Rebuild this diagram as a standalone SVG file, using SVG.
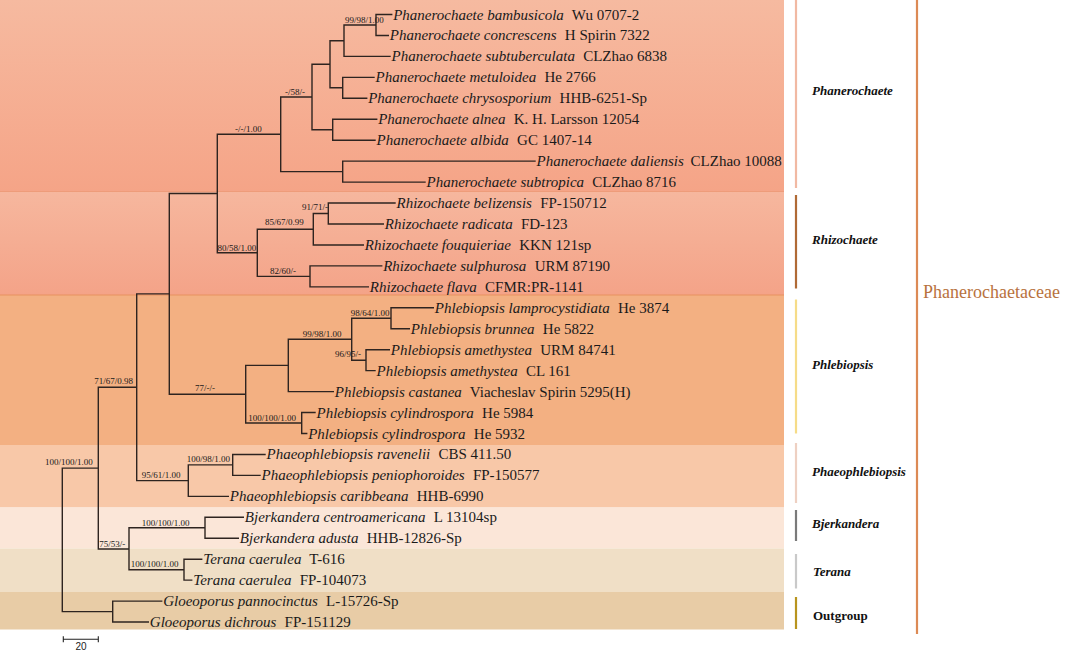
<svg xmlns="http://www.w3.org/2000/svg" width="1074" height="655" viewBox="0 0 1074 655">
<style>
.tip text{font-family:"Liberation Serif","Times New Roman",serif;font-size:15px;fill:#1a1a1a}
.sp{font-style:italic}
.sup{font-family:"Liberation Serif","Times New Roman",serif;font-size:9px;fill:#1a1a1a}
.br{fill:none;stroke:#2e2420;stroke-width:1.4;stroke-linecap:square}
.clab{font-family:"Liberation Serif","Times New Roman",serif;font-size:13px;font-weight:bold;font-style:italic;fill:#111}
.bar{stroke-width:2.2;fill:none}
</style>
<defs>
<linearGradient id="gPh" x1="0" y1="0" x2="0" y2="1">
<stop offset="0" stop-color="#f6baa0"/>
<stop offset="1" stop-color="#f5a487"/>
</linearGradient>
<linearGradient id="gRh" x1="0" y1="0" x2="0" y2="1">
<stop offset="0" stop-color="#f6b79e"/>
<stop offset="1" stop-color="#f4a388"/>
</linearGradient>
</defs>
<rect width="1074" height="655" fill="#ffffff"/>
<g id="bands">
<rect x="0" y="0" width="784" height="191.5" fill="url(#gPh)"/>
<rect x="0" y="191.5" width="784" height="103.5" fill="url(#gRh)"/>
<rect x="0" y="295" width="784" height="150" fill="#f3b082"/>
<rect x="0" y="445" width="784" height="62.5" fill="#f8c8a8"/>
<rect x="0" y="507.5" width="784" height="41" fill="#fbe6d8"/>
<rect x="0" y="548.5" width="784" height="43.5" fill="#f0dfc6"/>
<rect x="0" y="592" width="784" height="37.5" fill="#e8cca6"/>
<line x1="0" y1="191.5" x2="784" y2="191.5" stroke="#ee9c7a" stroke-width="1"/>
<line x1="0" y1="295" x2="784" y2="295" stroke="#e8915e" stroke-width="1"/>
</g>
<g id="connectors">
<path class="br" d="M376 14.5V35.45M376 14.5H391.7M376 35.45H388.3
M344 25V56.4M344 25H376M344 56.4H390
M342.7 77.35V98.3M342.7 77.35H374M342.7 98.3H366.7
M330 40.7V87.8M330 40.7H344M330 87.8H342.7
M332.7 119.25V140.2M332.7 119.25H376.7M332.7 140.2H375
M312 64.25V129.7M312 64.25H330M312 129.7H332.7
M342.7 161.15V182.1M342.7 161.15H535M342.7 182.1H425
M280.7 97V171.6M280.7 97H312M280.7 171.6H342.7
M328.3 203.05V224M328.3 203.05H395M328.3 224H383.3
M313.3 213.5V244.95M313.3 213.5H328.3M313.3 244.95H363.3
M310 265.9V286.85M310 265.9H381.7M310 286.85H368.3
M257.3 229.2V276.4M257.3 229.2H313.3M257.3 276.4H310
M217.3 134.3V252.8M217.3 134.3H280.7M217.3 252.8H257.3
M391 307.8V328.75M391 307.8H433.3M391 328.75H409.3
M366 349.7V370.65M366 349.7H389.3M366 370.65H375
M351.7 318.3V360.2M351.7 318.3H391M351.7 360.2H366
M288.3 339.2V391.6M288.3 339.2H351.7M288.3 391.6H333.3
M301.7 412.55V433.5M301.7 412.55H315M301.7 433.5H306.7
M245.7 365.4V423M245.7 365.4H288.3M245.7 423H301.7
M169.3 193.55V394.2M169.3 193.55H217.3M169.3 394.2H245.7
M232.7 454.45V475.4M232.7 454.45H265M232.7 475.4H260
M188.3 464.9V496.35M188.3 464.9H232.7M188.3 496.35H228.3
M136.7 293.9V480.6M136.7 293.9H169.3M136.7 480.6H188.3
M205 517.3V538.25M205 517.3H243.3M205 538.25H238.3
M184 559.2V580.15M184 559.2H201.7M184 580.15H191.7
M129 527.8V569.7M129 527.8H205M129 569.7H184
M98.3 387.3V549M98.3 387.3H136.7M98.3 549H129
M112.7 601.1V622.05M112.7 601.1H161.7M112.7 622.05H148.3
M62.3 468.15V611.6M62.3 468.15H98.3M62.3 611.6H112.7"/>
</g>
<g id="supports" class="sup">
<text x="345" y="22.5">99/98/1.00</text>
<text x="285" y="94.5">-/58/-</text>
<text x="235" y="131.5">-/-/1.00</text>
<text x="217.5" y="251">80/58/1.00</text>
<text x="302" y="210">91/71/-</text>
<text x="265" y="224.5">85/67/0.99</text>
<text x="270" y="273.5">82/60/-</text>
<text x="350.7" y="316">98/64/1.00</text>
<text x="335" y="357">96/95/-</text>
<text x="302.7" y="336.7">99/98/1.00</text>
<text x="195" y="391">77/-/-</text>
<text x="248.3" y="420.7">100/100/1.00</text>
<text x="186.7" y="461.7">100/98/1.00</text>
<text x="141.7" y="478.3">95/61/1.00</text>
<text x="94.3" y="384">71/67/0.98</text>
<text x="99.3" y="546.7">75/53/-</text>
<text x="141.7" y="526">100/100/1.00</text>
<text x="130.7" y="566.7">100/100/1.00</text>
<text x="45" y="465">100/100/1.00</text>
</g>
<g id="t1" class="tip"><text x="393.2" y="19.5"><tspan class="sp">Phanerochaete bambusicola</tspan><tspan dx="4.5"> Wu 0707-2</tspan></text></g>
<g id="t2" class="tip"><text x="389.8" y="40.45"><tspan class="sp">Phanerochaete concrescens</tspan><tspan dx="4.5"> H Spirin 7322</tspan></text></g>
<g id="t3" class="tip"><text x="391.5" y="61.4"><tspan class="sp">Phanerochaete subtuberculata</tspan><tspan dx="4.5"> CLZhao 6838</tspan></text></g>
<g id="t4" class="tip"><text x="375.5" y="82.35"><tspan class="sp">Phanerochaete metuloidea</tspan><tspan dx="4.5"> He 2766</tspan></text></g>
<g id="t5" class="tip"><text x="368.2" y="103.3"><tspan class="sp">Phanerochaete chrysosporium</tspan><tspan dx="4.5"> HHB-6251-Sp</tspan></text></g>
<g id="t6" class="tip"><text x="378.2" y="124.25"><tspan class="sp">Phanerochaete alnea</tspan><tspan dx="4.5"> K. H. Larsson 12054</tspan></text></g>
<g id="t7" class="tip"><text x="376.5" y="145.2"><tspan class="sp">Phanerochaete albida</tspan><tspan dx="4.5"> GC 1407-14</tspan></text></g>
<g id="t8" class="tip"><text x="536.5" y="166.15"><tspan class="sp">Phanerochaete daliensis</tspan><tspan dx="3"> CLZhao 10088</tspan></text></g>
<g id="t9" class="tip"><text x="426.5" y="187.1"><tspan class="sp">Phanerochaete subtropica</tspan><tspan dx="4.5"> CLZhao 8716</tspan></text></g>
<g id="t10" class="tip"><text x="396.5" y="208.05"><tspan class="sp">Rhizochaete belizensis</tspan><tspan dx="4.5"> FP-150712</tspan></text></g>
<g id="t11" class="tip"><text x="384.8" y="229"><tspan class="sp">Rhizochaete radicata</tspan><tspan dx="4.5"> FD-123</tspan></text></g>
<g id="t12" class="tip"><text x="364.8" y="249.95"><tspan class="sp">Rhizochaete fouquieriae</tspan><tspan dx="4.5"> KKN 121sp</tspan></text></g>
<g id="t13" class="tip"><text x="383.2" y="270.9"><tspan class="sp">Rhizochaete sulphurosa</tspan><tspan dx="4.5"> URM 87190</tspan></text></g>
<g id="t14" class="tip"><text x="369.8" y="291.85"><tspan class="sp">Rhizochaete flava</tspan><tspan dx="4.5"> CFMR:PR-1141</tspan></text></g>
<g id="t15" class="tip"><text x="434.8" y="312.8"><tspan class="sp">Phlebiopsis lamprocystidiata</tspan><tspan dx="4.5"> He 3874</tspan></text></g>
<g id="t16" class="tip"><text x="410.8" y="333.75"><tspan class="sp">Phlebiopsis brunnea</tspan><tspan dx="4.5"> He 5822</tspan></text></g>
<g id="t17" class="tip"><text x="390.8" y="354.7"><tspan class="sp">Phlebiopsis amethystea</tspan><tspan dx="4.5"> URM 84741</tspan></text></g>
<g id="t18" class="tip"><text x="376.5" y="375.65"><tspan class="sp">Phlebiopsis amethystea</tspan><tspan dx="4.5"> CL 161</tspan></text></g>
<g id="t19" class="tip"><text x="334.8" y="396.6"><tspan class="sp">Phlebiopsis castanea</tspan><tspan dx="4.5"> Viacheslav Spirin 5295(H)</tspan></text></g>
<g id="t20" class="tip"><text x="316.5" y="417.55"><tspan class="sp">Phlebiopsis cylindrospora</tspan><tspan dx="4.5"> He 5984</tspan></text></g>
<g id="t21" class="tip"><text x="308.2" y="438.5"><tspan class="sp">Phlebiopsis cylindrospora</tspan><tspan dx="4.5"> He 5932</tspan></text></g>
<g id="t22" class="tip"><text x="266.5" y="459.45"><tspan class="sp">Phaeophlebiopsis ravenelii</tspan><tspan dx="4.5"> CBS 411.50</tspan></text></g>
<g id="t23" class="tip"><text x="261.5" y="480.4"><tspan class="sp">Phaeophlebiopsis peniophoroides</tspan><tspan dx="4.5"> FP-150577</tspan></text></g>
<g id="t24" class="tip"><text x="229.8" y="501.35"><tspan class="sp">Phaeophlebiopsis caribbeana</tspan><tspan dx="4.5"> HHB-6990</tspan></text></g>
<g id="t25" class="tip"><text x="244.8" y="522.3"><tspan class="sp">Bjerkandera centroamericana</tspan><tspan dx="4.5"> L 13104sp</tspan></text></g>
<g id="t26" class="tip"><text x="239.8" y="543.25"><tspan class="sp">Bjerkandera adusta</tspan><tspan dx="4.5"> HHB-12826-Sp</tspan></text></g>
<g id="t27" class="tip"><text x="203.2" y="564.2"><tspan class="sp">Terana caerulea</tspan><tspan dx="4.5"> T-616</tspan></text></g>
<g id="t28" class="tip"><text x="193.2" y="585.15"><tspan class="sp">Terana caerulea</tspan><tspan dx="4.5"> FP-104073</tspan></text></g>
<g id="t29" class="tip"><text x="163.2" y="606.1"><tspan class="sp">Gloeoporus pannocinctus</tspan><tspan dx="4.5"> L-15726-Sp</tspan></text></g>
<g id="t30" class="tip"><text x="149.8" y="627.05"><tspan class="sp">Gloeoporus dichrous</tspan><tspan dx="4.5"> FP-151129</tspan></text></g>
<g id="clade-phanerochaete"><line class="bar" x1="796" y1="0" x2="796" y2="188" stroke="#f1b9a3"/><text class="clab" x="812" y="95">Phanerochaete</text></g>
<g id="clade-rhizochaete"><line class="bar" x1="796" y1="195" x2="796" y2="288.5" stroke="#b06a35"/><text class="clab" x="812" y="244">Rhizochaete</text></g>
<g id="clade-phlebiopsis"><line class="bar" x1="796" y1="299.5" x2="796" y2="433.5" stroke="#f6dc88"/><text class="clab" x="812" y="369">Phlebiopsis</text></g>
<g id="clade-phaeophlebiopsis"><line class="bar" x1="796" y1="443" x2="796" y2="503" stroke="#eed0c2"/><text class="clab" x="812" y="476">Phaeophlebiopsis</text></g>
<g id="clade-bjerkandera"><line class="bar" x1="796" y1="510" x2="796" y2="541" stroke="#7a7a7a"/><text class="clab" x="812" y="528">Bjerkandera</text></g>
<g id="clade-terana"><line class="bar" x1="796" y1="554" x2="796" y2="588.5" stroke="#c9c9c9"/><text class="clab" x="813" y="576">Terana</text></g>
<g id="clade-outgroup"><line class="bar" x1="796" y1="597" x2="796" y2="629" stroke="#b8941e"/><text class="clab" x="813" y="620" style="font-style:normal">Outgroup</text></g>
<g id="family"><line x1="917" y1="0" x2="917" y2="634" stroke="#dc8a55" stroke-width="2.2"/><text x="923" y="298" font-family="'Liberation Serif','Times New Roman',serif" font-size="18" fill="#b8723e">Phanerochaetaceae</text></g>
<g id="scale"><path d="M63.3 639.3H98.3M63.3 636.3V642.3M98.3 636.3V642.3" stroke="#222" stroke-width="1.1" fill="none"/><text x="81" y="650" text-anchor="middle" font-family="'Liberation Sans',Arial,sans-serif" font-size="10" fill="#222">20</text></g>
</svg>
